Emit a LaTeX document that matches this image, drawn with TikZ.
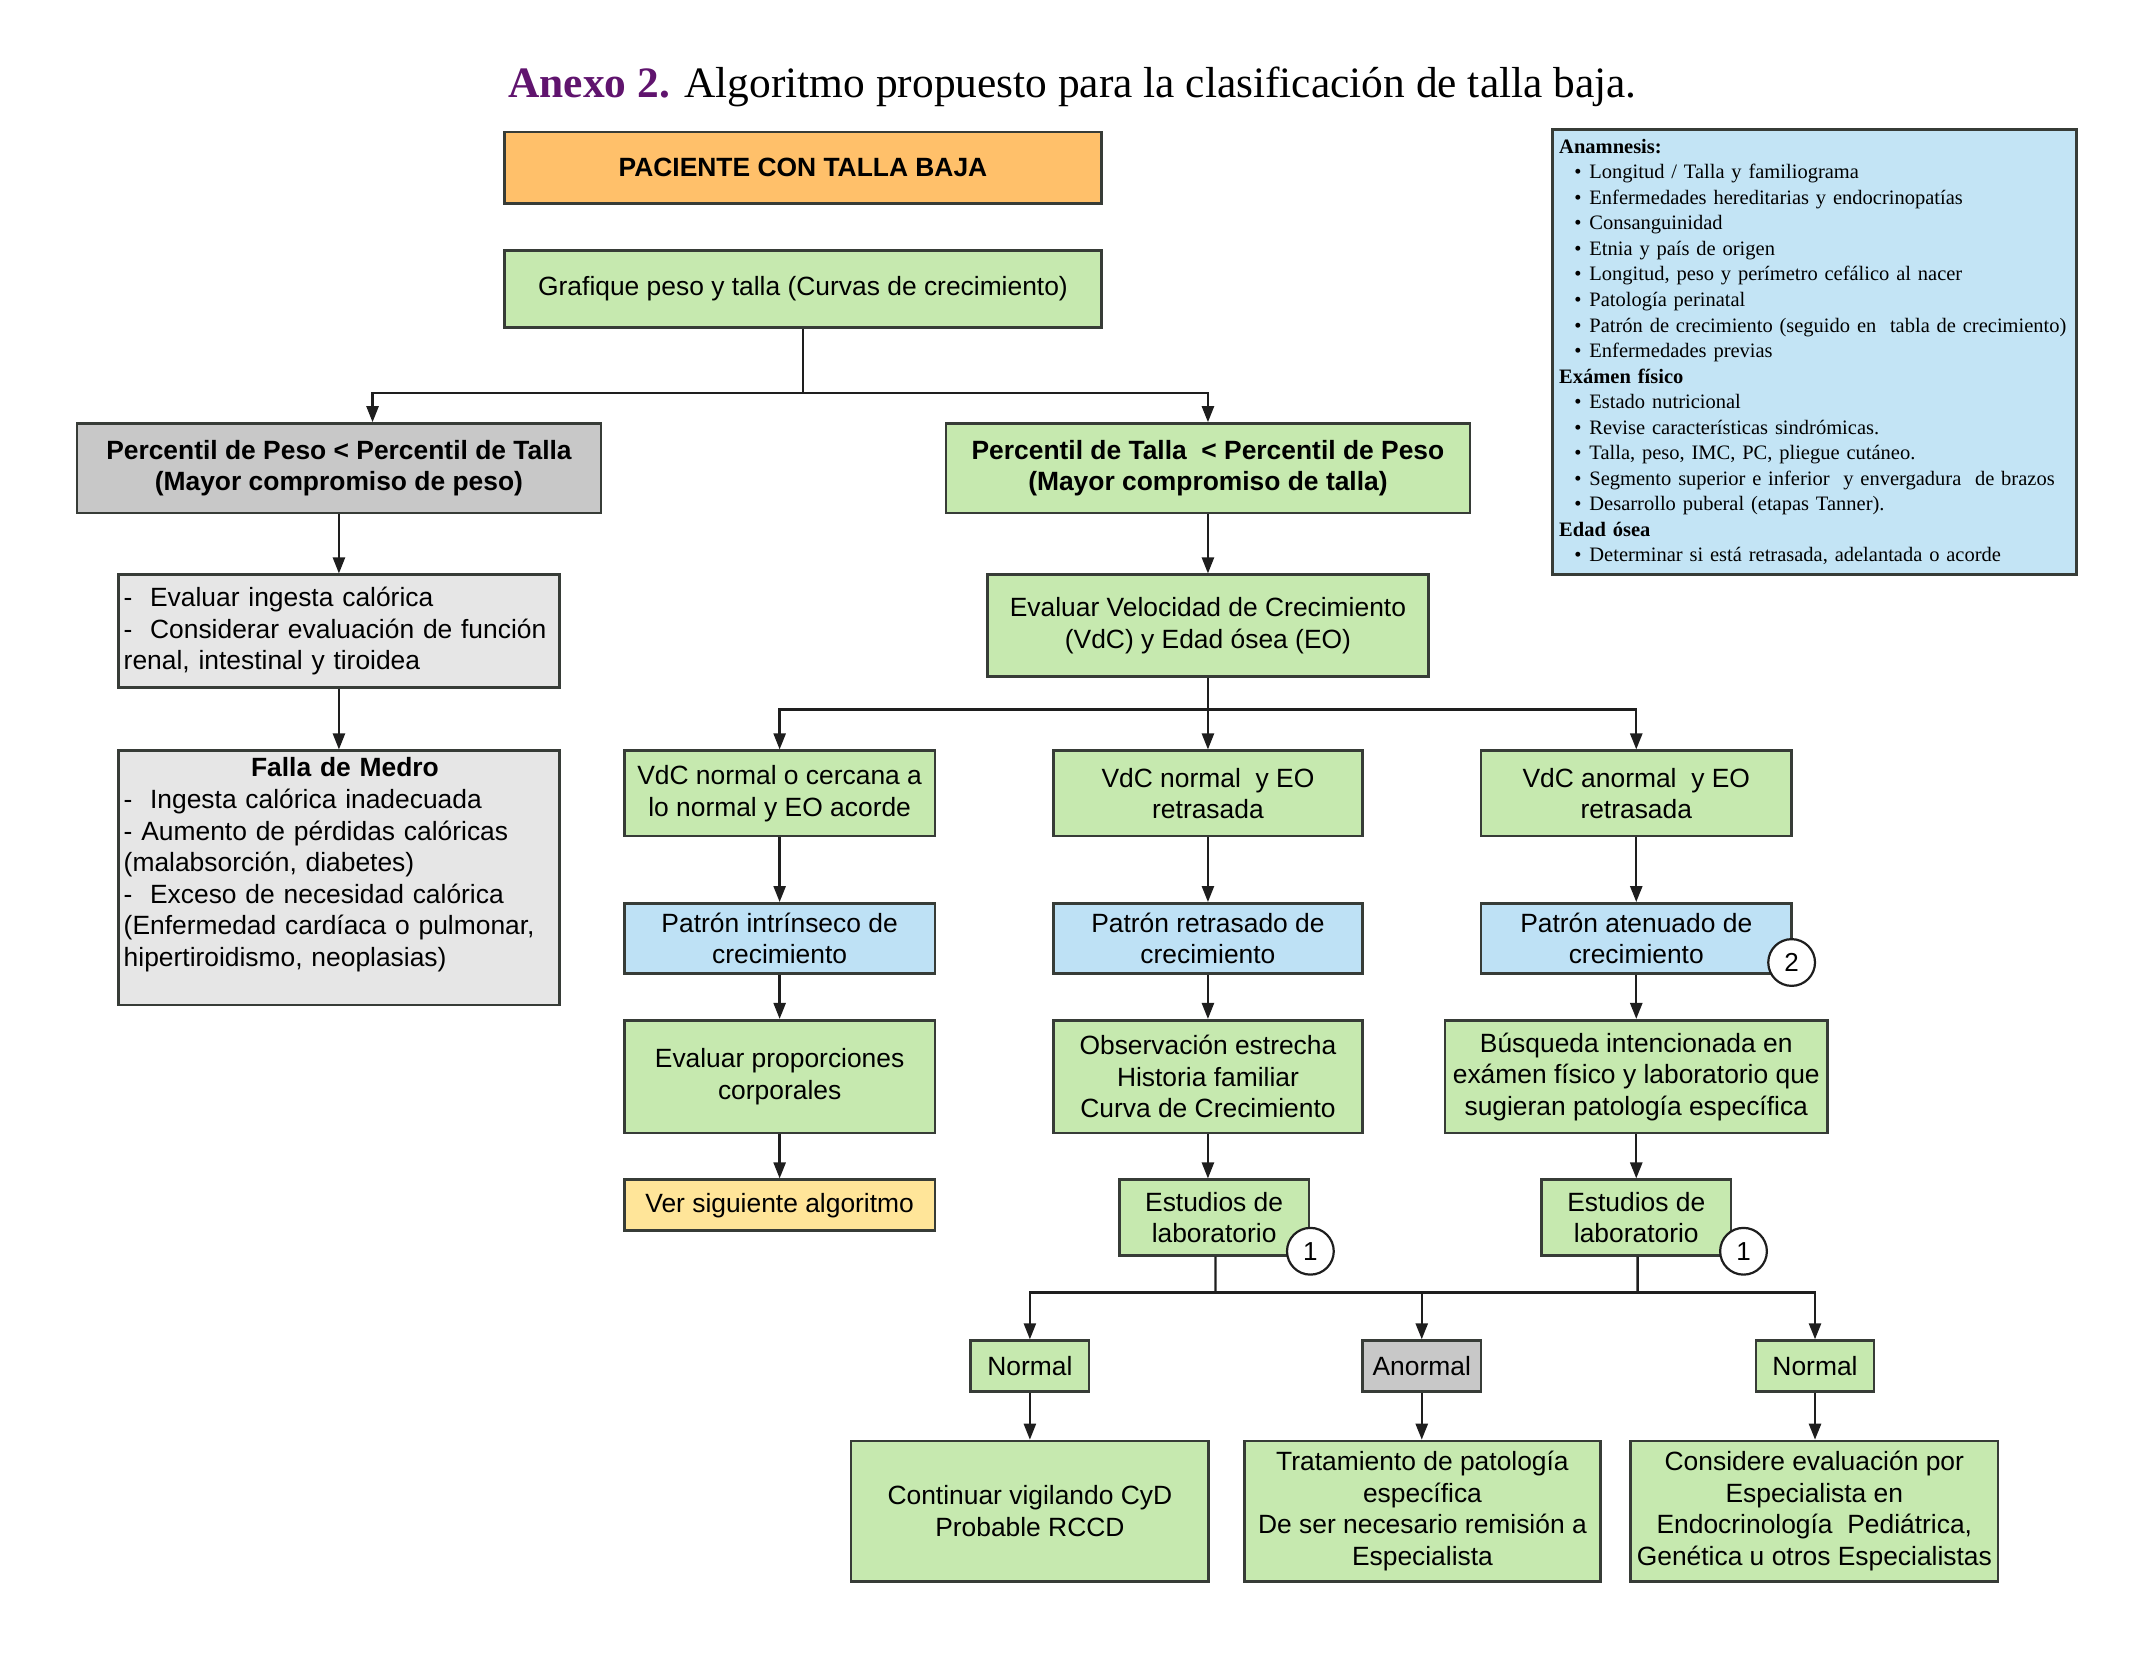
\documentclass[tikz,border=0pt]{standalone}
\usepackage{fontspec}
\setmainfont{Liberation Sans}
\newfontfamily\seriffont{Liberation Serif}
\usetikzlibrary{arrows.meta,calc}
\definecolor{cgreen}{RGB}{198,233,175}
\definecolor{corange}{RGB}{255,192,106}
\definecolor{cgray}{RGB}{200,200,200}
\definecolor{clgray}{RGB}{230,230,230}
\definecolor{cyellow}{RGB}{255,229,153}
\definecolor{cblue}{RGB}{190,225,245}
\definecolor{cinfo}{RGB}{195,228,245}
\definecolor{cborder}{RGB}{55,60,55}
\definecolor{cline}{RGB}{30,30,30}
\definecolor{cpurple}{RGB}{96,20,110}
\newcommand\infoitem[1]{\hspace*{7.6pt}\makebox[7.5pt][l]{\textbullet}\mbox{#1}}
\begin{document}
\begin{tikzpicture}[x=0.6875pt,y=-0.6875pt,
  box/.style={draw=cborder, line width=1.3pt, inner sep=2pt, align=center,
    font=\fontsize{13.2}{15.8}\selectfont},
  sz/.style 2 args={minimum width=#1*0.6875pt, minimum height=#2*0.6875pt},
  green/.style={box, fill=cgreen},
  blue/.style={box, fill=cblue},
  ln/.style={draw=cline, line width=1.2pt},
  arr/.style={ln, -{Triangle[length=8pt,width=6pt]}},
  circ/.style={circle, draw=cline, fill=white, line width=1.1pt,
    minimum size=34*0.6875pt, inner sep=0pt, font=\fontsize{13}{15}\selectfont}]
\useasboundingbox (0,0) rectangle (1568,1209);

% title
\node[font=\seriffont\fontsize{21.7}{26}\selectfont] (title) at (780,63)
  {{\color{cpurple}\bfseries Anexo 2.} Algoritmo propuesto para la clasificación de talla baja.};

% top
\node[box, fill=corange, sz={434}{52}, font=\bfseries\fontsize{13.2}{15.8}\selectfont] (pac) at (584,122) {PACIENTE CON TALLA BAJA};
\node[green, sz={434}{56}] (graf) at (584,210) {Grafique peso y talla (Curvas de crecimiento)};

\node[box, fill=cgray, sz={381}{65}, font=\bfseries\fontsize{13.2}{15.8}\selectfont] (peso) at (246.5,340.5)
  {Percentil de Peso < Percentil de Talla\\(Mayor compromiso de peso)};
\node[green, sz={381}{65}, font=\bfseries\fontsize{13.2}{15.8}\selectfont] (talla) at (878.5,340.5)
  {Percentil de Talla\ \ < Percentil de Peso\\(Mayor compromiso de talla)};

% left column
\node[box, fill=clgray, sz={321}{82}, text width=215.2pt, inner xsep=2.75pt, align=left] (ingesta) at (246.5,459)
  {-\ \ Evaluar ingesta calórica\\-\ \ Considerar evaluación de función\\renal, intestinal y tiroidea};
\node[box, fill=clgray, sz={321}{185}, text width=215.2pt, inner xsep=2.75pt, align=left] (falla) at (246.5,638.5)
  {\makebox[\linewidth]{\hspace{6pt}\textbf{Falla de Medro}}\\
   -\ \ Ingesta calórica inadecuada\\
   - Aumento de pérdidas calóricas\\
   (malabsorción, diabetes)\\
   -\ \ Exceso de necesidad calórica\\
   (Enfermedad cardíaca o pulmonar,\\
   hipertiroidismo, neoplasias)\\
   \mbox{}};

% right part
\node[green, sz={321}{74}] (vel) at (878.5,455) {Evaluar Velocidad de Crecimiento\\(VdC) y Edad ósea (EO)};

\node[green, sz={226}{62}] (v1) at (567,577) {VdC normal o cercana a\\lo normal y EO acorde};
\node[green, sz={225}{62}] (v2) at (878.5,577) {VdC normal\ \ y EO\\retrasada};
\node[green, sz={226}{62}] (v3) at (1190,577) {VdC anormal\ \ y EO\\retrasada};

\node[blue, sz={226}{51}] (p1) at (567,682.5) {Patrón intrínseco de\\crecimiento};
\node[blue, sz={225}{51}] (p2) at (878.5,682.5) {Patrón retrasado de\\crecimiento};
\node[blue, sz={226}{51}] (p3) at (1190,682.5) {Patrón atenuado de\\crecimiento};

\node[green, sz={226}{82}] (e1) at (567,783) {Evaluar proporciones\\corporales};
\node[green, sz={225}{82}] (obs) at (878.5,783) {Observación estrecha\\Historia familiar\\Curva de Crecimiento};
\node[green, sz={278}{82}] (bus) at (1190,783) {Búsqueda intencionada en\\exámen físico y laboratorio que\\sugieran patología específica};

\node[box, fill=cyellow, sz={226}{37}] (ver) at (567,876.5) {Ver siguiente algoritmo};
\node[green, sz={138}{55}] (est1) at (883,885.5) {Estudios de\\laboratorio};
\node[green, sz={138}{55}] (est2) at (1190,885.5) {Estudios de\\laboratorio};

\node[green, sz={86}{37}] (n1) at (749,993.5) {Normal};
\node[box, fill=cgray, sz={86}{37}] (an) at (1034,993.5) {Anormal};
\node[green, sz={86}{37}] (n2) at (1320,993.5) {Normal};

\node[green, sz={260}{102}] (b1) at (749,1099) {Continuar vigilando CyD\\Probable RCCD};
\node[green, sz={259}{102}] (b2) at (1034.5,1099) {Tratamiento de patología\\específica\\De ser necesario remisión a\\Especialista};
\node[green, sz={267}{102}] (b3) at (1319.5,1099) {Considere evaluación por\\Especialista en\\Endocrinología\ \ Pediátrica,\\Genética u otros Especialistas};

% info box
\node[draw=cborder, line width=1.3pt, fill=cinfo, sz={381}{324}, text width=255.1pt, inner xsep=3.44pt,
  align=left, font=\seriffont\fontsize{10.25}{12.76}\selectfont] (info) at (1319.5,256)
  {\textbf{Anamnesis:}\\
   \infoitem{Longitud / Talla y familiograma}\\
   \infoitem{Enfermedades hereditarias y endocrinopatías}\\
   \infoitem{Consanguinidad}\\
   \infoitem{Etnia y país de origen}\\
   \infoitem{Longitud, peso y perímetro cefálico al nacer}\\
   \infoitem{Patología perinatal}\\
   \infoitem{Patrón de crecimiento (seguido en\ \ tabla de crecimiento)}\\
   \infoitem{Enfermedades previas}\\
   \textbf{Exámen físico}\\
   \infoitem{Estado nutricional}\\
   \infoitem{Revise características sindrómicas.}\\
   \infoitem{Talla, peso, IMC, PC, pliegue cutáneo.}\\
   \infoitem{Segmento superior e inferior\ \ y envergadura\ \ de brazos}\\
   \infoitem{Desarrollo puberal (etapas Tanner).}\\
   \textbf{Edad ósea}\\
   \infoitem{Determinar si está retrasada, adelantada o acorde}};

% connectors
\coordinate (j1) at (585,286);
\draw[ln] (graf.south) -- (graf.south |- j1);
\draw[arr] (graf.south |- j1) -| ([xshift=16.8pt]peso.north);
\draw[arr] (graf.south |- j1) -| (talla.north);
\draw[arr] (peso.south) -- (ingesta.north);
\draw[arr] (ingesta.south) -- (falla.north);
\draw[arr] (talla.south) -- (vel.north);

\coordinate (j2) at (878.5,516);
\draw[ln] (vel.south) -- (j2);
\draw[arr] (j2) -| (v1.north);
\draw[arr] (j2) -- (v2.north);
\draw[arr] (j2) -| (v3.north);

\draw[arr] (v1.south) -- (p1.north);
\draw[arr] (v2.south) -- (p2.north);
\draw[arr] (v3.south) -- (p3.north);
\draw[arr] (p1.south) -- (e1.north);
\draw[arr] (p2.south) -- (obs.north);
\draw[arr] (p3.south) -- (bus.north);
\draw[arr] (e1.south) -- (ver.north);
\draw[arr] (obs.south) -- (obs.south |- est1.north);
\draw[arr] (bus.south) -- (est2.north);

\coordinate (j3) at (884,940);
\coordinate (j4) at (1191,940);
\draw[ln] ([xshift=0.7pt]est1.south) -- (j3);
\draw[ln] ([xshift=0.7pt]est2.south) -- (j4);
\draw[ln] (j3) -- (j4);
\draw[arr] (j3) -| (n1.north);
\draw[arr] (an.north |- j3) -- (an.north);
\draw[arr] (j4) -| (n2.north);
\draw[arr] (n1.south) -- (b1.north);
\draw[arr] (an.south) -- (an.south |- b2.north);
\draw[arr] (n2.south) -- (n2.south |- b3.north);

% circled numbers
\node[circ] (c1a) at (953,910) {1};
\node[circ] (c1b) at (1268,910) {1};
\node[circ] (c2) at (1303,700) {2};
\end{tikzpicture}
\end{document}
